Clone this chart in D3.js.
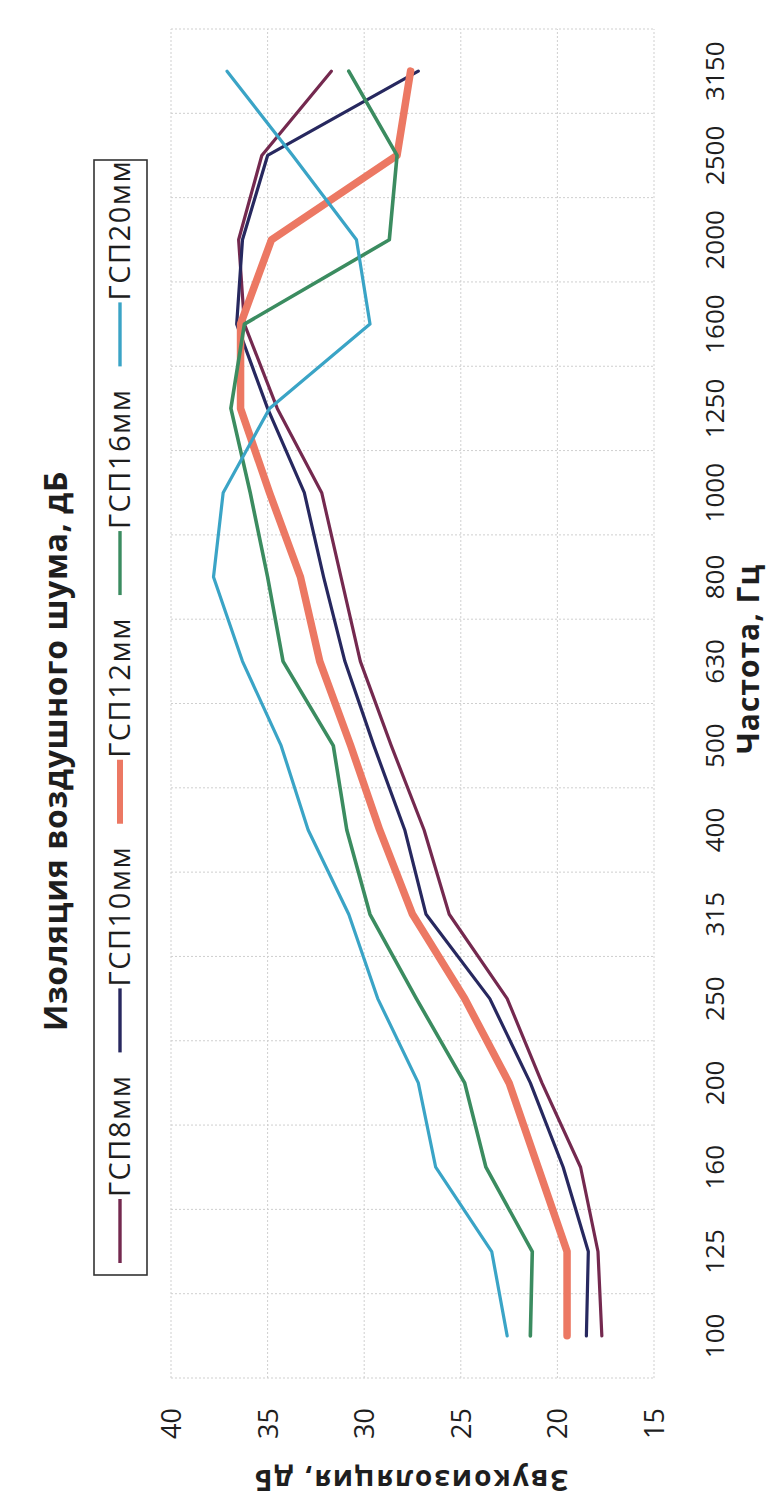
<!DOCTYPE html>
<html>
<head>
<meta charset="utf-8">
<script src="https://cdn.jsdelivr.net/npm/d3@7"></script>
<style>
  body { margin: 0; background: #fff; }
  svg { display: block; }
  text { font-family: "Open Sans", "Noto Sans", sans-serif; fill: #1e1e1e; }
</style>
</head>
<body>
<div id="chart"></div>
<script>
// frequencies, Hz
const freqs = ['100', '125', '160', '200', '250', '315', '400', '500', '630', '800', '1000', '1250', '1600', '2000', '2500', '3150'];
// sound insulation, dB
const gsp8 = [17.7, 17.9, 18.8, 20.8, 22.6, 25.6, 26.9, 28.6, 30.2, 31.2, 32.2, 34.5, 36.2, 36.5, 35.3, 31.7];
const gsp10 = [18.5, 18.4, 19.7, 21.4, 23.5, 26.8, 27.9, 29.5, 31.0, 32.1, 33.1, 35.0, 36.6, 36.3, 35.0, 27.2];
const gsp12 = [19.5, 19.5, 21.0, 22.5, 24.8, 27.5, 29.2, 30.7, 32.3, 33.3, 34.9, 36.4, 36.4, 34.8, 28.3, 27.6];
const gsp16 = [21.4, 21.3, 23.7, 24.8, 27.3, 29.7, 30.9, 31.6, 34.2, 35.0, 35.9, 36.9, 36.2, 28.7, 28.3, 30.8];
const gsp20 = [22.6, 23.4, 26.3, 27.2, 29.3, 30.8, 32.9, 34.3, 36.3, 37.8, 37.3, 34.9, 29.7, 30.4, 33.7, 37.1];
const names = ['ГСП8мм', 'ГСП10мм', 'ГСП12мм', 'ГСП16мм', 'ГСП20мм'];
const yTicks = [15, 20, 25, 30, 35, 40];

const series = [gsp8, gsp10, gsp12, gsp16, gsp20];
const colors = ['#74294f', '#27285f', '#ec7863', '#3b8c60', '#3aa4c6'];
const widths = [3.2, 3.2, 7.5, 3.6, 3.2];

// chart is drawn landscape, then turned to portrait
const W = 1502, H = 779;
const plot = { left: 124, right: 1473, top: 171, bottom: 654 };

const svg = d3.select('#chart').append('svg')
  .attr('width', H).attr('height', W);
const g = svg.append('g').attr('transform', `translate(0,${W}) rotate(-90)`);

const x = d3.scaleBand().domain(freqs).range([plot.left, plot.right]).padding(0);
const y = d3.scaleLinear().domain([15, 40]).range([plot.bottom, plot.top]);
const cx = (f) => x(f) + x.bandwidth() / 2;

// grid
const grid = g.append('g').attr('stroke', '#cfcfcf').attr('stroke-width', 1).attr('stroke-dasharray', '2,2');
grid.selectAll('.vg')
  .data(freqs.map((f) => x(f)).concat([plot.right]))
  .enter().append('line')
  .attr('x1', (d) => d).attr('x2', (d) => d)
  .attr('y1', plot.top).attr('y2', plot.bottom);
grid.selectAll('.hg')
  .data(yTicks)
  .enter().append('line')
  .attr('x1', plot.left).attr('x2', plot.right)
  .attr('y1', (d) => y(d)).attr('y2', (d) => y(d));

// y tick labels
g.append('g').selectAll('text')
  .data(yTicks)
  .enter().append('text')
  .attr('x', plot.left - 30)
  .attr('y', (d) => y(d) + 10)
  .attr('text-anchor', 'end')
  .attr('font-size', 27)
  .text((d) => d);

// x tick labels
g.append('g').selectAll('text')
  .data(freqs)
  .enter().append('text')
  .attr('x', (d) => cx(d))
  .attr('y', 724)
  .attr('text-anchor', 'middle')
  .attr('font-size', 26)
  .text((d) => d);

// lines
const line = d3.line().x((d, i) => cx(freqs[i])).y((d) => y(d));
g.append('g').selectAll('path')
  .data(series)
  .enter().append('path')
  .attr('d', line)
  .attr('fill', 'none')
  .attr('stroke', (d, i) => colors[i])
  .attr('stroke-width', (d, i) => widths[i])
  .attr('stroke-linejoin', 'round')
  .attr('stroke-linecap', 'round');

// titles
g.append('text')
  .attr('x', 751).attr('y', 67)
  .attr('text-anchor', 'middle')
  .attr('font-size', 32).attr('font-weight', 'bold')
  .attr('letter-spacing', 0.6)
  .text('Изоляция воздушного шума, дБ');

g.append('text')
  .attr('x', 843).attr('y', 759)
  .attr('text-anchor', 'middle')
  .attr('font-size', 30).attr('font-weight', 'bold')
  .attr('letter-spacing', 1)
  .text('Частота, Гц');

g.append('text')
  .attr('transform', `translate(22,${(plot.top + plot.bottom) / 2 - 2}) rotate(-90)`)
  .attr('dy', '0.35em')
  .attr('text-anchor', 'middle')
  .attr('font-size', 28).attr('font-weight', 'bold')
  .attr('letter-spacing', 2)
  .text('Звукоизоляция, дБ');

// legend
const legend = g.append('g');
legend.append('rect')
  .attr('x', 227).attr('y', 94)
  .attr('width', 1342 - 227).attr('height', 53)
  .attr('fill', '#fff').attr('stroke', '#333').attr('stroke-width', 1.6);
let lx = 239;
names.forEach((n, i) => {
  legend.append('line')
    .attr('x1', lx).attr('x2', lx + 64)
    .attr('y1', 120).attr('y2', 120)
    .attr('stroke', colors[i]).attr('stroke-width', widths[i] > 5 ? 6 : 3.4);
  const t = legend.append('text')
    .attr('x', lx + 66).attr('y', 130)
    .attr('font-size', 29)
    .attr('letter-spacing', 1.5)
    .text(n);
  lx += 66 + t.node().getComputedTextLength() + 22;
});
</script>
</body>
</html>
